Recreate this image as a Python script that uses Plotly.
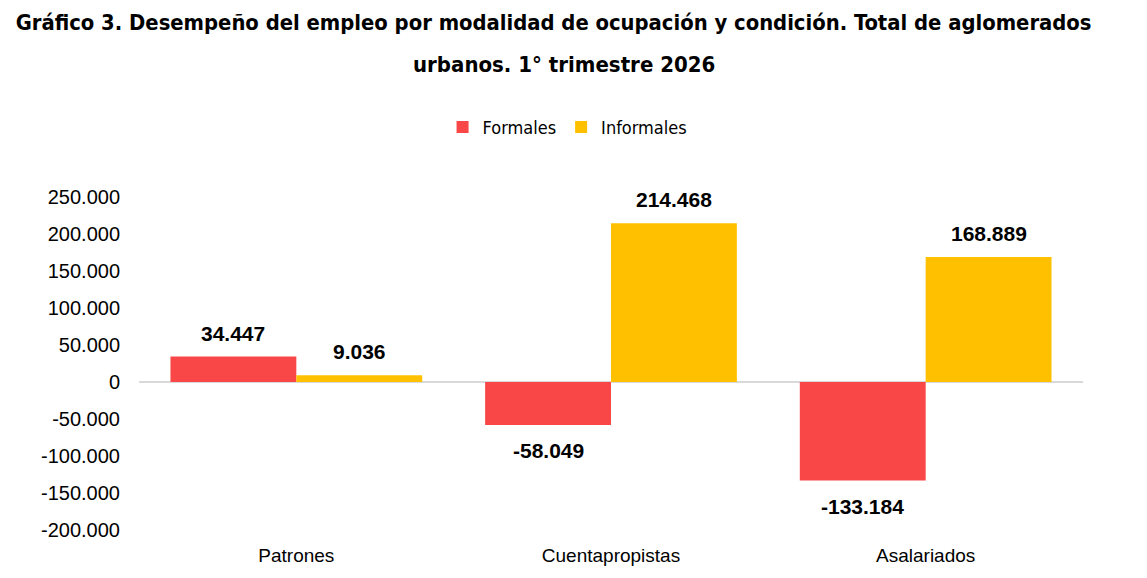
import plotly.graph_objects as go

categorias = ['Patrones', 'Cuentapropistas', 'Asalariados']
formales = [34447, -58049, -133184]
informales = [9036, 214468, 168889]
ticks_y = [-200000, -150000, -100000, -50000, 0, 50000, 100000, 150000, 200000, 250000]

rojo = '#F94646'
amarillo = '#FFC000'
titulo_font = 'DejaVu Sans Condensed, Roboto, sans-serif'


def fmt(v):
    # miles con punto y signo menos simple
    return f'{v:,}'.replace(',', '.')


fig = go.Figure()
etiquetas = []
for nombre, valores, color, desplaz in [('Formales', formales, rojo, -63), ('Informales', informales, amarillo, 63)]:
    fig.add_trace(go.Bar(
        x=categorias, y=valores, name=nombre,
        marker=dict(color=color, line=dict(width=0))
    ))
    for cat, v in zip(categorias, valores):
        etiquetas.append(dict(
            x=cat, y=v, xref='x', yref='y', xshift=desplaz,
            yshift=10 if v >= 0 else -12,
            yanchor='bottom' if v >= 0 else 'top',
            text='<b>' + fmt(v) + '</b>', showarrow=False,
            font=dict(family='Liberation Sans', size=21, color='#000000')
        ))

etiquetas.append(dict(
    text='<b>urbanos. 1° trimestre 2026</b>',
    xref='paper', yref='paper', x=0.450, y=(532 - 64) / 335,
    xanchor='center', yanchor='middle', showarrow=False,
    font=dict(family=titulo_font, size=22, color='#000000')
))

fig.update_layout(
    width=1139, height=570,
    margin=dict(l=131, r=64, t=189, b=46),
    paper_bgcolor='white', plot_bgcolor='white',
    barmode='group', bargap=0.2, bargroupgap=0,
    title=dict(
        text='<b>Gráfico 3. Desempeño del empleo por modalidad de ocupación y condición. Total de aglomerados</b>',
        x=0.479, xanchor='center', y=1 - 14 / 570, yanchor='middle',
        font=dict(family=titulo_font, size=21.8, color='#000000')
    ),
    legend=dict(
        orientation='h', x=0.454, xanchor='center', y=(532 - 127) / 335, yanchor='middle',
        font=dict(family=titulo_font, size=18, color='#000000'),
        traceorder='normal'
    ),
    xaxis=dict(
        showline=False, showgrid=False, ticks='', ticklabelstandoff=12,
        tickfont=dict(family='Liberation Sans', size=19, color='#000000')
    ),
    yaxis=dict(
        range=[-200000, 250000], tickvals=ticks_y, ticktext=[fmt(t) for t in ticks_y],
        showgrid=False, showline=False, ticks='', ticklabelstandoff=18,
        zeroline=True, zerolinecolor='#D9D9D9', zerolinewidth=1.5,
        tickfont=dict(family='Liberation Sans', size=20, color='#000000')
    ),
    annotations=etiquetas
)

fig.write_html('out.html')
